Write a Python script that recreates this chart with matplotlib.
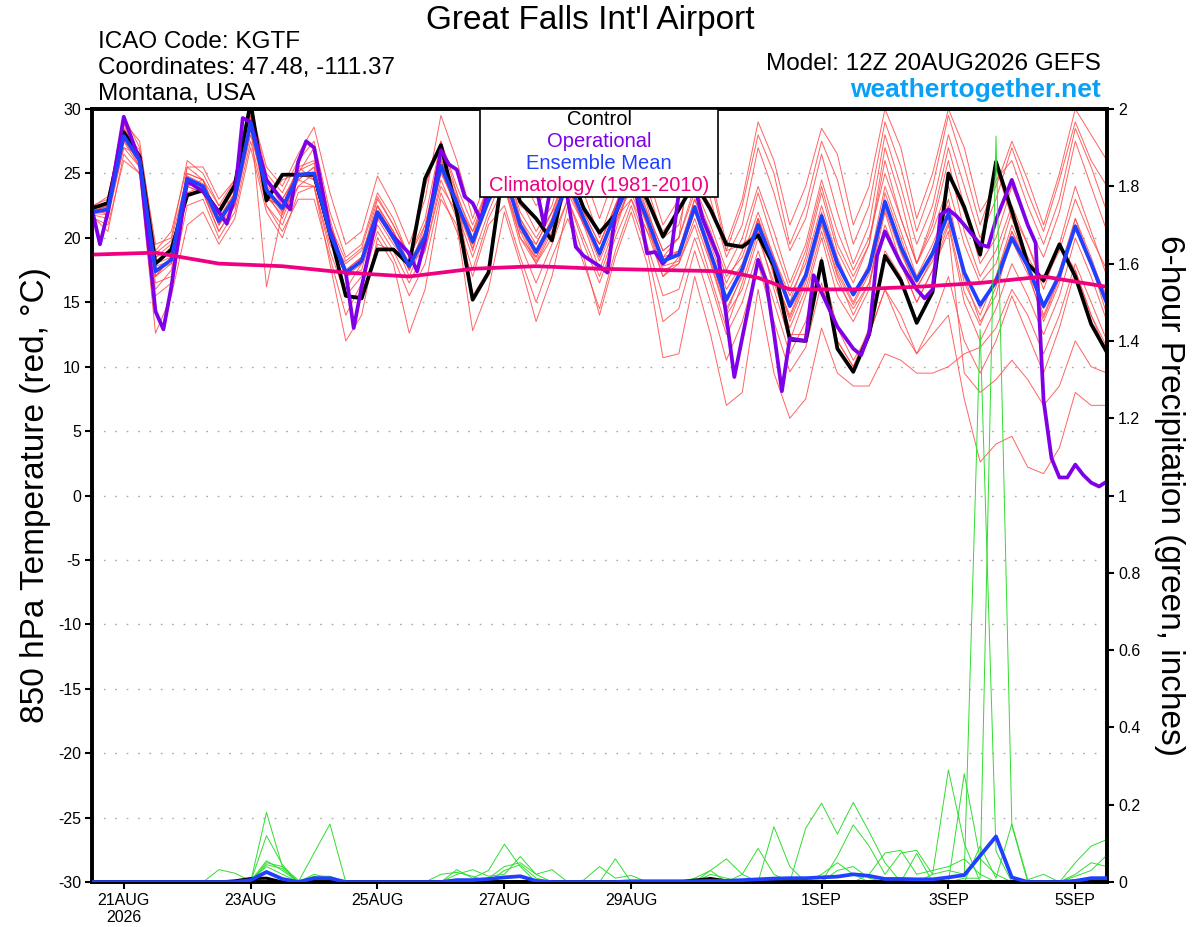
import matplotlib
matplotlib.use('Agg')
import matplotlib.pyplot as plt
from matplotlib.patches import Rectangle
import numpy as np

plt.rcParams['font.family'] = ['Liberation Sans', 'DejaVu Sans']

# ---------------- data ----------------
hours = list(range(0, 385, 6))  # hours after 12Z 20 Aug 2026

control = [22.3, 22.7, 28.2, 26.3, 18.0, 19.1, 23.3, 23.7, 22.0, 24.1, 30.5,
           22.9, 24.9, 24.9, 24.9, 20.4, 15.5, 15.3, 19.1, 19.1, 17.9, 24.6,
           27.2, 22.0, 15.2, 17.3, 26.0, 22.8, 21.5, 19.8, 25.5, 22.3, 20.4,
           21.8, 25.0, 23.0, 20.1, 22.2, 24.3, 22.2, 19.5, 19.3, 20.2, 17.8,
           12.1, 12.0, 18.2, 11.4, 9.6, 12.5, 18.6, 16.7, 13.4, 15.8, 25.0,
           22.4, 18.7, 25.9, 22.1, 18.0, 16.7, 19.5, 17.0, 13.3, 11.1]

ens_mean = [22.0, 22.2, 27.9, 26.0, 17.4, 18.3, 24.6, 24.0, 21.3, 23.1, 28.9,
            23.7, 22.3, 24.9, 25.0, 20.4, 17.3, 18.2, 22.0, 20.0, 17.8, 20.1,
            25.6, 22.7, 19.7, 22.9, 25.0, 21.0, 18.9, 21.1, 24.5, 21.5, 18.8,
            21.9, 24.5, 21.5, 18.2, 18.7, 22.4, 18.8, 15.2, 17.6, 21.0, 18.0,
            14.7, 17.1, 21.7, 18.0, 15.6, 17.6, 22.8, 19.3, 16.7, 18.8, 21.9,
            17.3, 14.8, 16.6, 20.0, 17.8, 14.7, 17.1, 20.9, 18.0, 14.9]

op_hours = [0, 3, 6, 12, 18, 24, 27, 30, 36, 42, 48, 51, 54, 57, 60, 66, 72, 75, 78, 81,
            84, 90, 96, 99, 102, 108, 114, 120, 123, 126, 132, 135, 138, 141, 144, 147,
            150, 156, 162, 168, 171, 174, 177, 180, 183, 186, 192, 195, 198, 204, 210,
            213, 216, 219, 222, 225, 228, 231, 234, 237, 243, 252, 255, 258, 261, 264,
            270, 273, 282, 288, 291, 294, 297, 300, 306, 312, 315, 318, 321, 324, 327,
            330, 336, 339, 342, 348, 354, 357, 360, 363, 366, 369, 372, 375, 378, 381, 384]
operational = [22.2, 19.5, 22.0, 29.4, 26.0, 14.3, 12.9, 16.2, 24.4, 23.6, 22.0, 21.1, 23.2,
               29.3, 29.0, 24.5, 22.9, 22.2, 25.9, 27.5, 27.0, 20.6, 17.3, 13.0, 16.2, 21.9,
               20.1, 18.8, 17.4, 19.8, 26.8, 25.7, 25.3, 23.2, 22.7, 21.4, 23.8, 26.5, 25.0,
               24.0, 21.0, 24.5, 26.0, 23.0, 19.3, 18.6, 17.8, 17.3, 21.9, 25.5, 18.8, 18.9,
               18.0, 18.7, 23.5, 25.0, 24.0, 21.5, 20.0, 18.5, 9.2, 18.3, 16.7, 12.6, 8.1,
               12.2, 12.0, 17.1, 13.1, 11.4, 10.9, 12.6, 18.6, 20.5, 18.0, 16.0, 15.3, 16.0,
               21.8, 22.2, 21.7, 21.0, 19.5, 19.3, 21.4, 24.5, 21.0, 19.6, 7.4, 2.9, 1.4,
               1.4, 2.4, 1.6, 1.0, 0.7, 1.1]

clim_hours = [0, 24, 48, 72, 96, 120, 144, 168, 192, 216, 240, 252, 264, 288, 312, 336, 360, 384]
climatology = [18.7, 18.85, 18.0, 17.8, 17.3, 17.0, 17.6, 17.8, 17.6, 17.5, 17.4, 16.9,
               16.0, 16.0, 16.2, 16.5, 17.0, 16.2]

members = [
    [22.5, 23.0, 29.5, 27.0, 19.5, 20.0, 26.0, 25.0, 22.5, 24.5, 30.0,
     25.0, 23.5, 26.0, 27.5, 22.0, 18.5, 19.5, 23.5, 21.5, 18.5, 21.5,
     27.5, 24.0, 21.0, 24.0, 27.5, 23.0, 20.5, 22.5, 27.0, 23.5, 20.0,
     23.5, 27.5, 24.0, 20.0, 21.0, 26.0, 23.0, 18.5, 21.0, 27.0, 23.5,
     19.0, 21.5, 26.5, 22.0, 18.0, 21.0, 28.0, 24.0, 19.5, 22.5, 28.0,
     24.0, 20.0, 23.0, 27.0, 23.5, 20.5, 24.5, 29.0, 26.0, 24.0],
    [21.8, 21.5, 27.0, 25.5, 16.0, 17.5, 23.5, 23.5, 20.5, 22.5, 28.5,
     22.5, 21.0, 24.0, 24.0, 19.0, 15.5, 17.0, 21.0, 19.0, 16.5, 19.0,
     24.5, 21.5, 17.5, 21.5, 24.0, 19.5, 16.5, 19.5, 23.0, 19.5, 16.5,
     20.0, 23.0, 19.5, 15.5, 16.0, 20.0, 16.5, 12.5, 15.0, 19.0, 15.0,
     11.0, 13.5, 18.0, 13.0, 10.5, 12.5, 16.0, 13.0, 11.0, 12.5, 14.0,
     7.5, 2.6, 4.0, 4.6, 2.2, 1.7, 3.7, 8.0, 7.0, 7.0],
    [22.0, 22.5, 28.0, 26.5, 18.0, 18.5, 24.5, 24.0, 21.0, 23.0, 29.0,
     16.2, 22.0, 24.5, 25.5, 20.0, 16.0, 18.0, 22.5, 20.0, 17.0, 20.0,
     25.5, 22.0, 18.5, 22.0, 25.0, 20.5, 18.0, 20.5, 24.0, 21.0, 17.5,
     21.0, 24.0, 21.0, 17.0, 18.5, 22.0, 18.5, 14.5, 17.0, 21.5, 17.5,
     13.5, 16.5, 21.0, 17.0, 14.0, 16.5, 22.0, 18.0, 15.0, 17.5, 20.5,
     9.5, 8.0, 9.0, 10.5, 9.0, 7.0, 8.5, 12.0, 10.0, 9.5],
    [22.3, 22.8, 28.5, 26.5, 18.5, 19.5, 23.5, 24.0, 22.0, 24.0, 30.0,
     23.0, 24.5, 25.0, 25.0, 20.5, 15.5, 15.5, 19.5, 19.0, 18.0, 24.0,
     27.5, 23.5, 15.5, 17.5, 26.0, 22.5, 21.5, 20.0, 25.5, 22.5, 20.5,
     22.0, 25.0, 23.0, 20.5, 22.0, 24.5, 22.5, 19.0, 19.5, 20.5, 18.0,
     12.5, 12.5, 18.5, 12.0, 10.0, 13.0, 19.0, 17.0, 13.5, 16.0, 25.0,
     22.0, 18.5, 25.5, 21.5, 18.5, 16.5, 19.5, 17.5, 14.0, 11.5],
    [21.6, 21.0, 26.0, 25.0, 12.6, 15.5, 21.0, 22.0, 19.5, 21.5, 27.0,
     22.0, 20.0, 23.5, 24.0, 18.0, 12.0, 14.0, 20.0, 18.0, 12.6, 16.0,
     23.0, 21.0, 12.8, 16.0, 22.0, 18.0, 13.5, 17.0, 22.5, 18.5, 14.0,
     18.5, 22.0, 18.0, 10.7, 11.0, 17.0, 12.5, 7.0, 8.0, 16.0, 9.5,
     6.0, 7.5, 13.0, 9.5, 8.5, 8.5, 11.0, 10.5, 9.5, 9.5, 10.0,
     11.0, 11.5, 13.0, 16.0, 14.0, 11.0, 14.0, 18.0, 15.0, 12.0],
    [22.6, 22.0, 28.8, 26.0, 17.0, 18.5, 25.0, 24.5, 21.5, 23.5, 29.5,
     24.5, 22.5, 25.5, 26.0, 21.0, 17.5, 18.5, 22.5, 20.5, 18.0, 20.5,
     26.5, 23.5, 20.0, 23.5, 26.5, 21.5, 19.0, 21.5, 25.5, 22.0, 19.5,
     22.5, 26.0, 22.0, 19.0, 20.0, 28.5, 25.0, 19.5, 23.0, 29.0, 26.0,
     21.0, 24.0, 28.5, 26.5, 21.0, 24.0, 30.0, 27.0, 21.5, 25.0, 30.0,
     27.0, 22.0, 24.0, 27.5, 24.5, 21.0, 25.0, 30.0, 28.0, 26.0],
    [21.9, 21.8, 27.5, 26.0, 18.5, 19.0, 24.0, 23.5, 20.5, 22.5, 28.0,
     23.5, 21.5, 24.5, 24.0, 19.5, 17.5, 18.5, 23.0, 21.0, 18.5, 19.5,
     25.0, 22.5, 20.5, 23.0, 24.5, 20.0, 18.0, 20.0, 23.0, 20.0, 17.0,
     20.5, 24.5, 21.0, 17.5, 18.0, 21.0, 17.0, 13.0, 16.5, 20.5, 16.0,
     12.0, 15.5, 20.0, 15.5, 13.5, 16.0, 23.5, 20.0, 16.5, 19.0, 23.0,
     17.0, 13.5, 15.5, 20.5, 17.5, 13.5, 16.5, 21.5, 18.0, 14.0],
    [22.1, 22.5, 28.0, 25.5, 16.5, 17.0, 25.5, 24.5, 22.5, 23.0, 29.0,
     24.0, 23.0, 25.0, 27.0, 21.5, 17.0, 17.5, 22.0, 20.5, 17.5, 21.0,
     26.0, 23.0, 19.0, 23.5, 25.5, 21.5, 19.5, 22.0, 25.0, 21.5, 18.5,
     22.5, 25.5, 22.5, 18.0, 19.0, 23.0, 20.0, 16.5, 19.0, 23.5, 19.5,
     16.0, 19.0, 24.0, 19.5, 17.0, 19.5, 26.0, 21.5, 18.0, 21.0, 26.0,
     20.5, 17.0, 19.0, 22.5, 19.5, 16.0, 19.5, 24.0, 20.5, 17.0],
    [22.0, 22.0, 27.0, 26.5, 17.5, 18.0, 24.0, 24.5, 21.0, 23.5, 28.5,
     23.0, 22.5, 25.5, 24.5, 20.0, 18.0, 19.0, 21.5, 19.5, 18.0, 19.0,
     24.0, 22.0, 20.0, 24.5, 24.0, 20.5, 19.5, 22.0, 23.5, 21.0, 19.5,
     22.5, 23.5, 20.5, 18.5, 20.0, 23.5, 20.5, 17.0, 18.5, 22.0, 18.5,
     15.5, 18.0, 22.5, 18.5, 15.5, 18.0, 24.0, 20.5, 17.0, 19.5, 22.5,
     16.5, 14.0, 17.0, 21.0, 18.0, 14.5, 17.5, 21.5, 18.5, 15.0],
    [22.4, 23.2, 29.0, 27.5, 19.0, 20.5, 25.5, 25.5, 23.0, 24.5, 30.0,
     25.5, 24.0, 26.5, 28.6, 23.5, 19.5, 20.5, 24.8, 22.5, 19.5, 23.0,
     29.5, 26.0, 21.5, 25.0, 29.0, 25.0, 22.5, 24.0, 29.0, 25.0, 21.5,
     25.0, 29.0, 25.0, 21.0, 23.0, 27.5, 24.5, 19.0, 22.5, 28.0, 25.0,
     19.5, 22.5, 27.5, 24.5, 19.5, 22.5, 29.0, 25.5, 20.5, 24.0, 29.5,
     25.5, 21.0, 24.5, 26.0, 22.5, 19.5, 23.0, 28.5, 25.5, 22.0],
    [21.7, 20.5, 26.5, 25.0, 15.5, 16.5, 22.5, 23.0, 20.0, 22.0, 27.5,
     22.5, 20.5, 23.0, 23.0, 18.5, 14.0, 16.5, 20.5, 18.5, 15.5, 18.0,
     23.5, 20.5, 17.0, 21.0, 22.5, 18.5, 15.0, 18.5, 21.5, 18.0, 14.5,
     19.0, 22.5, 19.0, 13.5, 14.5, 19.0, 15.0, 10.5, 13.5, 18.0, 13.5,
     9.6, 11.5, 16.5, 12.0, 10.0, 12.5, 16.0, 14.0, 11.0, 13.5, 17.0,
     12.0, 9.5, 12.0, 15.5, 12.5, 9.5, 13.0, 17.5, 14.0, 11.0],
    [22.2, 22.6, 28.5, 26.0, 17.0, 18.5, 24.5, 24.0, 21.5, 23.0, 29.5,
     24.0, 22.0, 24.5, 25.5, 20.5, 17.0, 18.5, 22.0, 20.0, 17.5, 20.5,
     26.0, 23.0, 19.5, 23.0, 25.5, 21.0, 18.5, 21.0, 24.5, 21.5, 18.5,
     22.0, 24.5, 21.5, 18.0, 19.0, 22.5, 19.0, 15.0, 17.5, 21.5, 17.0,
     14.0, 17.0, 22.0, 17.5, 15.0, 17.5, 23.0, 19.0, 16.0, 18.5, 22.0,
     17.5, 14.5, 17.0, 20.5, 18.0, 14.0, 17.0, 21.0, 18.0, 15.5],
    [22.5, 22.3, 28.0, 26.0, 18.0, 19.0, 25.0, 24.5, 21.5, 23.5, 28.5,
     23.5, 22.0, 24.0, 25.0, 20.0, 17.0, 18.0, 22.0, 20.0, 17.5, 20.0,
     25.5, 22.5, 19.5, 23.5, 25.0, 21.0, 19.0, 21.5, 24.5, 21.5, 19.0,
     22.0, 24.5, 21.5, 18.5, 19.0, 23.0, 19.5, 16.0, 18.0, 21.5, 18.5,
     15.0, 18.5, 23.5, 19.0, 16.5, 19.5, 27.0, 23.0, 18.0, 21.5, 27.0,
     22.5, 18.0, 20.0, 24.0, 21.0, 18.5, 22.0, 27.5, 24.0, 20.5],
    [22.0, 22.2, 27.5, 25.5, 17.0, 18.0, 24.0, 23.5, 21.0, 22.5, 29.0,
     23.0, 22.5, 25.0, 24.5, 20.0, 17.0, 18.5, 22.5, 20.5, 18.0, 20.0,
     25.5, 22.5, 20.0, 23.0, 24.0, 20.0, 18.5, 21.0, 24.0, 21.0, 19.0,
     21.5, 23.0, 20.5, 17.0, 18.0, 21.5, 18.0, 14.0, 16.0, 20.0, 16.5,
     13.0, 16.0, 20.5, 16.5, 14.5, 16.5, 21.0, 18.0, 15.0, 17.5, 21.0,
     15.0, 12.0, 14.5, 18.0, 15.5, 12.5, 15.5, 20.0, 17.0, 13.5],
    [22.3, 21.8, 28.2, 26.8, 18.8, 19.8, 24.8, 24.2, 21.8, 23.8, 29.2,
     24.2, 23.0, 25.2, 25.8, 21.0, 18.2, 19.2, 23.2, 21.0, 18.5, 21.0,
     26.2, 23.2, 20.5, 24.0, 26.0, 22.0, 20.0, 22.0, 25.5, 22.0, 19.5,
     22.5, 25.0, 22.0, 19.0, 20.0, 24.0, 21.0, 17.5, 20.0, 24.0, 20.5,
     16.5, 19.5, 24.5, 20.5, 17.5, 20.0, 25.0, 21.5, 18.0, 20.5, 24.0,
     19.5, 16.5, 18.0, 22.0, 19.5, 16.5, 19.0, 23.0, 20.0, 17.5],
    [21.9, 22.4, 27.8, 26.2, 17.8, 18.2, 24.2, 23.8, 21.2, 22.8, 28.8,
     23.2, 21.8, 24.8, 24.8, 19.8, 17.2, 18.2, 21.8, 19.8, 17.8, 19.8,
     25.2, 22.2, 19.2, 22.8, 24.8, 20.8, 18.2, 20.8, 24.2, 21.2, 18.2,
     21.2, 24.2, 21.2, 17.8, 18.2, 22.2, 18.2, 14.2, 17.2, 21.2, 17.2,
     13.8, 16.8, 21.2, 17.2, 14.8, 17.2, 22.2, 18.8, 16.2, 18.2, 21.2,
     15.8, 13.2, 16.2, 19.8, 17.2, 13.8, 16.8, 20.8, 17.8, 14.8],
]

precip_mean = [0, 0, 0, 0, 0, 0, 0, 0, 0, 0, 0.005,
               0.026, 0.008, 0.0, 0.01, 0.01, 0.0, 0, 0, 0, 0, 0,
               0, 0.005, 0.005, 0.008, 0.012, 0.015, 0.003, 0, 0, 0, 0,
               0, 0.002, 0.002, 0.002, 0.002, 0.002, 0.003, 0.003, 0.005, 0.007, 0.009,
               0.01, 0.01, 0.012, 0.014, 0.02, 0.016, 0.008, 0.008, 0.007, 0.007, 0.012,
               0.018, 0.068, 0.118, 0.012, 0.0, 0, 0, 0.003, 0.01, 0.01]

precip_control_pts = [(9, 0.003), (10, 0.009), (11, 0.01), (38, 0.005), (39, 0.009),
                      (40, 0.003), (63, 0.003), (64, 0.005)]

# precipitation members: (6-hour step index, inches); all other steps are 0
precip_members_pts = [
    [(11, 0.18), (12, 0.04), (23, 0.032), (24, 0.01), (25, 0.03), (26, 0.098), (27, 0.04),
     (39, 0.03), (40, 0.06), (41, 0.02), (45, 0.139), (46, 0.204), (47, 0.124), (48, 0.206),
     (49, 0.13), (50, 0.05)],
    [(8, 0.032), (9, 0.023), (10, 0.003), (11, 0.055), (12, 0.03), (14, 0.02), (15, 0.01),
     (23, 0.02), (24, 0.032), (25, 0.015), (26, 0.02), (27, 0.066), (28, 0.02), (29, 0.032),
     (41, 0.02), (42, 0.087), (43, 0.02), (47, 0.067), (48, 0.148), (49, 0.093), (50, 0.02),
     (51, 0.075), (52, 0.082), (53, 0.02), (54, 0.29), (55, 0.1)],
    [(11, 0.12), (12, 0.045), (14, 0.075), (15, 0.15), (22, 0.02), (23, 0.025), (24, 0.015),
     (26, 0.03), (27, 0.045), (28, 0.01), (43, 0.143), (44, 0.04), (47, 0.03), (48, 0.04),
     (49, 0.01), (52, 0.074), (55, 0.28), (56, 0.06), (57, 0.02)],
    [(11, 0.05), (12, 0.04), (13, 0.005), (25, 0.01), (26, 0.04), (27, 0.05), (28, 0.02),
     (39, 0.02), (40, 0.01), (46, 0.02), (47, 0.05), (48, 0.02), (53, 0.02), (54, 0.03),
     (55, 0.02), (56, 1.43), (57, 0.08)],
    [(11, 0.045), (12, 0.035), (14, 0.015), (15, 0.015), (31, 0.005), (32, 0.04), (33, 0.01),
     (34, 0.017), (55, 0.01), (56, 0.01), (57, 1.93), (58, 0.147), (62, 0.05), (63, 0.093),
     (64, 0.11)],
    [(10, 0.005), (11, 0.04), (12, 0.02), (33, 0.06), (38, 0.01), (39, 0.03), (56, 0.093),
     (57, 0.01), (58, 0.15), (59, 0.006), (60, 0.02), (62, 0.015), (63, 0.03), (64, 0.07)],
    [(49, 0.02), (50, 0.075), (51, 0.082), (52, 0.02), (53, 0.03), (54, 0.04), (55, 0.06),
     (56, 0.02), (62, 0.02), (63, 0.05), (64, 0.04)],
]

yticks_left = list(range(-30, 31, 5))
yticks_right = [0, 0.2, 0.4, 0.6, 0.8, 1.0, 1.2, 1.4, 1.6, 1.8, 2.0]
yticks_right_labels = ['0', '0.2', '0.4', '0.6', '0.8', '1', '1.2', '1.4', '1.6', '1.8', '2']
xtick_hours = [12, 60, 108, 156, 204, 276, 324, 372]
xtick_labels = ['21AUG\n2026', '23AUG', '25AUG', '27AUG', '29AUG', '1SEP', '3SEP', '5SEP']

legend_lines = ['Control', 'Operational', 'Ensemble Mean', 'Climatology (1981-2010)']

# ---------------- styles ----------------
C_RED = '#ff4848'
C_GREEN = '#30dd30'
C_BLACK = '#000000'
C_PURPLE = '#7f00e6'
C_BLUE = '#2040ff'
C_PINK = '#ee0080'
legend_colors = [C_BLACK, C_PURPLE, C_BLUE, C_PINK]

fig = plt.figure(figsize=(12, 9.27), dpi=100)
ax = fig.add_axes([0.0767, 0.0485, 0.8458, 0.8339])
ax2 = ax.twinx()

ax.set_xlim(0, 384)
ax.set_ylim(-30, 30)
ax2.set_ylim(0, 2)

for v in yticks_left[1:-1]:
    ax.axhline(v, color='#aaaaaa', lw=1.0, ls=(0, (1.2, 7)), zorder=0)

for m in members:
    ax.plot(hours, m, color=C_RED, lw=0.7, alpha=0.85, zorder=2)
ax.plot(hours, control, color=C_BLACK, lw=2.7, zorder=3)
ax.plot(op_hours, operational, color=C_PURPLE, lw=2.7, zorder=4)
ax.plot(hours, ens_mean, color=C_BLUE, lw=2.7, zorder=5)
ax.plot(clim_hours, climatology, color=C_PINK, lw=2.7, zorder=6)

n = len(hours)
for pts in precip_members_pts:
    arr = np.zeros(n)
    for i, v in pts:
        arr[i] = v
    ax2.plot(hours, arr, color=C_GREEN, lw=0.7, zorder=2)
pc = np.zeros(n)
for i, v in precip_control_pts:
    pc[i] = v
ax2.plot(hours, pc, color=C_BLACK, lw=2.2, zorder=3)
ax2.plot(hours, precip_mean, color=C_BLUE, lw=2.7, zorder=4)

# ticks
ax.set_yticks(yticks_left)
ax.set_yticklabels([str(v) for v in yticks_left])
ax2.set_yticks(yticks_right)
ax2.set_yticklabels(yticks_right_labels)
ax.set_xticks(xtick_hours)
ax.set_xticklabels(xtick_labels, linespacing=1.15)
ax.tick_params(axis='both', direction='out', length=5, width=1.5, labelsize=11.5, pad=3)
ax2.tick_params(axis='y', direction='out', length=5, width=1.5, labelsize=11.5, pad=3)
for a in (ax, ax2):
    for s in a.spines.values():
        s.set_linewidth(2.6)

ax.set_ylabel('850 hPa Temperature (red, °C)', fontsize=24, labelpad=5)
ax2.set_ylabel('6-hour Precipitation (green, inches)', fontsize=24, rotation=270, labelpad=32)

# legend box
ax2.add_patch(Rectangle((0.382, 0.886), 0.235, 0.114, transform=ax2.transAxes,
                        facecolor='white', edgecolor='black', lw=1.2, zorder=20))
for k, (txt, col) in enumerate(zip(legend_lines, legend_colors)):
    ax2.text(0.4995, 0.986 - k * 0.0285, txt, transform=ax2.transAxes, color=col,
             fontsize=14.5, ha='center', va='center', zorder=21)

# header texts
fig.text(0.492, 0.978, "Great Falls Int'l Airport", fontsize=24, ha='center', va='center')
fig.text(0.0817, 0.955, 'ICAO Code: KGTF', fontsize=17.5, ha='left', va='center')
fig.text(0.0817, 0.927, 'Coordinates: 47.48, -111.37', fontsize=17.5, ha='left', va='center')
fig.text(0.0817, 0.899, 'Montana, USA', fontsize=17.5, ha='left', va='center')
fig.text(0.9175, 0.931, 'Model: 12Z 20AUG2026 GEFS', fontsize=17.5, ha='right', va='center')
fig.text(0.9175, 0.903, 'weathertogether.net', fontsize=19, ha='right', va='center',
         color='#0aa0f5', fontweight='bold')

fig.savefig('out.png', dpi=100)
